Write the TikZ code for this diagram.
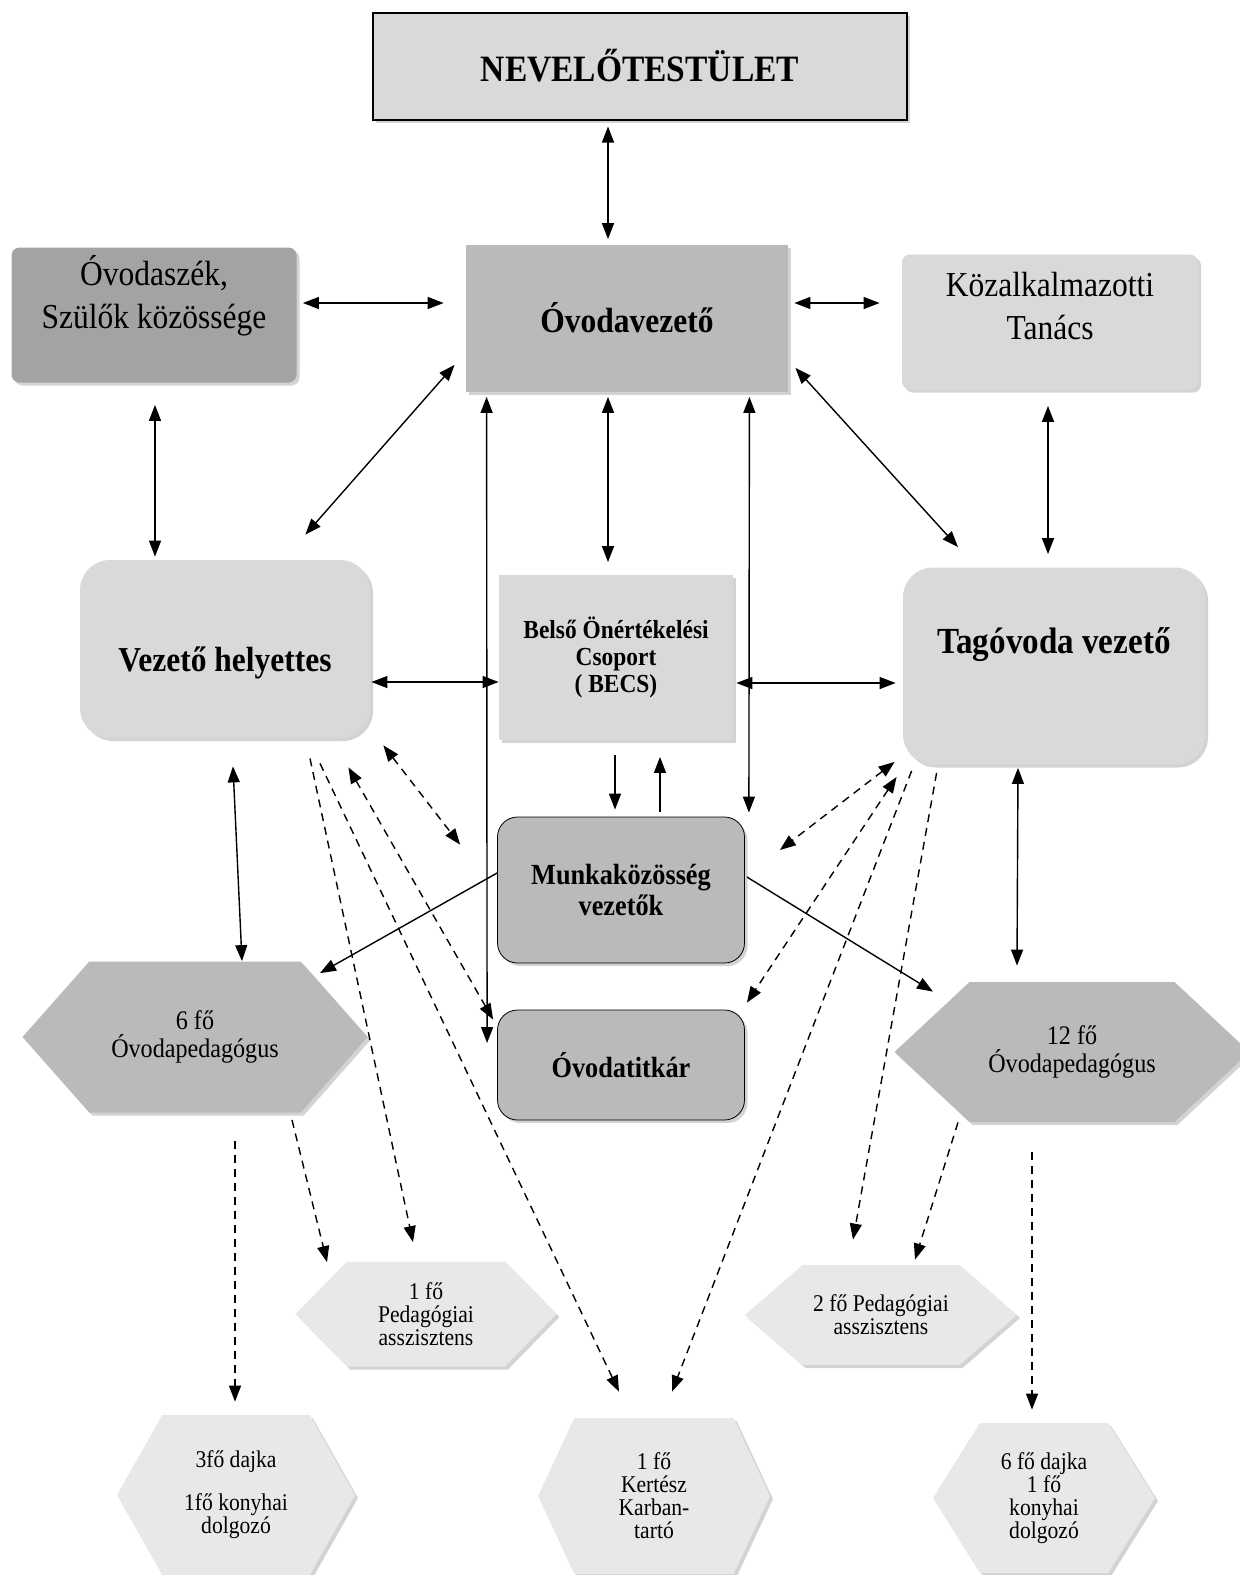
\documentclass[tikz,border=0pt]{standalone}
\usepackage{fontspec}
\setmainfont{Liberation Serif}[FakeStretch=0.9]
\usetikzlibrary{arrows.meta,calc,shapes.symbols,shadows}
\definecolor{grigioscuro}{gray}{0.64}
\definecolor{grigiomedio}{gray}{0.73}
\definecolor{grigiochiaro}{gray}{0.85}
\definecolor{grigiotenue}{gray}{0.91}
\newcommand{\titolo}{\fontsize{18.6}{22}\selectfont}
\newcommand{\grande}{\fontsize{17.5}{21.5}\selectfont}
\newcommand{\medio}{\fontsize{14.6}{15.5}\selectfont}
\newcommand{\piccolo}{\fontsize{12}{11.5}\selectfont}
\tikzset{
>={Triangle[length=8pt,width=6pt]},
ombra/.style={drop shadow={shadow xshift=1.5pt,shadow yshift=-1.5pt,opacity=0.35}},
main node/.style={rectangle,align=center,inner sep=2pt,ombra},
hex node/.style={signal,signal to=west and east,align=center,inner sep=1pt,ombra},
freccia/.style={<->,line width=0.7pt},
freccia1/.style={->,line width=0.7pt},
tratteggio/.style={<->,line width=0.7pt,dash pattern=on 4pt off 3pt},
tratteggio1/.style={->,line width=0.7pt,dash pattern=on 4pt off 3pt}}

\begin{document}
\begin{tikzpicture}[x=0.5pt,y=-0.5pt]
\useasboundingbox (0,0) rectangle (1239,1575);

\node[main node,draw,line width=1pt,fill=grigiochiaro,minimum width=267pt,minimum height=53.5pt,font=\titolo\bfseries] (nev) at (640,66) {NEVELŐTESTÜLET};
\node[main node,fill=grigiomedio,minimum width=161pt,minimum height=73.5pt,font=\grande\bfseries] (ov) at (627,318) {Óvodavezető};
\node[main node,fill=grigioscuro,rounded corners=4pt,minimum width=142.5pt,minimum height=67.5pt,font=\grande,text depth=23pt] (osz) at (154,315) {Óvodaszék,\\Szülők közössége};
\node[main node,fill=grigiochiaro,rounded corners=4pt,minimum width=148pt,minimum height=67.5pt,font=\grande,text depth=16pt] (kt) at (1050,322) {Közalkalmazotti\\Tanács};

\node[main node,fill=grigiochiaro,rounded corners=15pt,minimum width=145pt,minimum height=89pt,font=\grande\bfseries,text height=26pt] (vh) at (225,649) {Vezető helyettes};
\node[main node,fill=grigiochiaro,minimum width=117pt,minimum height=82.5pt,font=\fontsize{13}{13.5}\selectfont\bfseries] (becs) at (616,657) {Belső Önértékelési\\Csoport\\( BECS)};
\node[main node,fill=grigiochiaro,rounded corners=15pt,minimum width=151pt,minimum height=98.5pt,font=\fontsize{18.4}{22}\selectfont\bfseries,text depth=25pt] (tv) at (1054,666) {Tagóvoda vezető};

\node[main node,draw,fill=grigiomedio,rounded corners=10pt,minimum width=123.5pt,minimum height=73pt,font=\medio\bfseries] (mk) at (621,890) {Munkaközösség\\vezetők};
\node[main node,draw,fill=grigiomedio,rounded corners=10pt,minimum width=123.5pt,minimum height=55pt,font=\medio\bfseries] (tit) at (621,1065) {Óvodatitkár};

\node[hex node,fill=grigiomedio,signal pointer angle=97,minimum width=172.5pt,minimum height=75.5pt,font=\fontsize{13.4}{14}\selectfont] (p6) at (195,1037) {6 fő\\Óvodapedagógus};
\node[hex node,fill=grigiomedio,signal pointer angle=86,minimum width=177.5pt,minimum height=70pt,font=\fontsize{13.4}{14}\selectfont] (p12) at (1072,1052) {12 fő\\Óvodapedagógus};
\node[hex node,fill=grigiotenue,signal pointer angle=91,minimum width=130.5pt,minimum height=52.5pt,font=\piccolo] (pa1) at (426,1314) {1 fő\\Pedagógiai\\asszisztens};
\node[hex node,fill=grigiotenue,signal pointer angle=82,minimum width=136pt,minimum height=50pt,font=\piccolo] (pa2) at (881,1315) {2 fő Pedagógiai\\asszisztens};
\node[hex node,fill=grigiotenue,signal pointer angle=121,minimum width=119pt,minimum height=80pt,font=\piccolo] (d3) at (236,1495) {3fő dajka\\[10pt]1fő konyhai\\dolgozó};
\node[hex node,fill=grigiotenue,signal pointer angle=130,minimum width=116pt,minimum height=78pt,font=\piccolo] (ker) at (654,1496) {1 fő\\Kertész\\Karban-\\tartó};
\node[hex node,fill=grigiotenue,signal pointer angle=116,minimum width=111pt,minimum height=75pt,font=\piccolo] (d6) at (1044,1498) {6 fő dajka\\1 fő\\konyhai\\dolgozó};

% vezetés
\draw[freccia] ($(nev.south)+(-32,6)$) -- ($(ov.north)+(-19,-5)$);
\draw[freccia] ($(osz.east)+(6,-12)$) -- ($(ov.west)+(-22,-15)$);
\draw[freccia] ($(ov.east)+(6,-15)$) -- ($(kt.west)+(-22,-19)$);
\draw[freccia] ($(osz.south)+(1,22)$) -- ($(vh.north)+(-70,-3)$);
\draw[freccia] ($(ov.south west)+(-11,-27)$) -- ($(vh.north east)+(-65,-25)$);
\draw[freccia] ($(ov.south east)+(7,-24)$) -- ($(tv.north)+(-96,-20)$);
\draw[freccia] ($(kt.south)+(-2,16)$) -- ($(tv.north)+(-6,-13)$);
\draw[freccia] ($(ov.south)+(-19,5)$) -- ($(becs.north)+(-8,-12)$);
\draw[freccia] ($(ov.south west)+(21,5)$) -- ($(tit.west)+(-10,-22)$);
\draw[freccia] ($(ov.south east)+(-39,5)$) -- ($(mk.north east)+(4,-4)$);
\draw[freccia] ($(vh.east)+(1,33)$) -- ($(becs.west)+(0,25)$);
\draw[freccia] ($(becs.east)+(3,26)$) -- ($(tv.west)+(-7,17)$);
\draw[freccia1] ($(becs.south)+(-1,15)$) -- ($(mk.north)+(-6,-7)$);
\draw[freccia1] ($(mk.north)+(39,-5)$) -- ($(becs.south)+(44,17)$);
\draw[freccia] ($(vh.south)+(8,28)$) -- ($(p6.north)+(47,0)$);
\draw[freccia] ($(tv.south)+(-36,3)$) -- ($(p12.north)+(-55,-16)$);
\draw[freccia1] ($(mk.west)+(0,-17)$) -- ($(p6.north)+(125,12)$);
\draw[freccia1] ($(mk.east)+(2,-13)$) -- ($(p12.north)+(-139,10)$);

% szaggatott kapcsolatok
\draw[tratteggio] ($(vh.south east)+(13,7)$) -- ($(mk.north west)+(-37,28)$);
\draw[tratteggio] ($(vh.south east)+(-22,29)$) -- ($(tit.north west)+(-4,10)$);
\draw[tratteggio1] ($(vh.south)+(85,20)$) -- ($(pa1.north)+(-13,-19)$);
\draw[tratteggio1] ($(vh.south)+(95,25)$) -- ($(ker.north)+(-35,-26)$);
\draw[tratteggio1] ($(p6.south)+(97,7)$) -- ($(pa1.north)+(-99,1)$);
\draw[tratteggio1] ($(p6.south)+(40,28)$) -- ($(d3.north)+(-1,-13)$);
\draw[tratteggio] ($(tv.south west)+(-8,-3)$) -- ($(mk.east)+(35,-40)$);
\draw[tratteggio] ($(tv.south west)+(-6,12)$) -- ($(tit.north east)+(2,-7)$);
\draw[tratteggio1] ($(tv.south west)+(9,6)$) -- ($(ker.north)+(18,-26)$);
\draw[tratteggio1] ($(tv.south west)+(34,8)$) -- ($(pa2.north)+(-28,-25)$);
\draw[tratteggio1] ($(p12.south)+(-114,0)$) -- ($(pa2.north)+(34,-5)$);
\draw[tratteggio1] ($(p12.south)+(-40,30)$) -- ($(d6.north)+(-12,-13)$);

\end{tikzpicture}
\end{document}
